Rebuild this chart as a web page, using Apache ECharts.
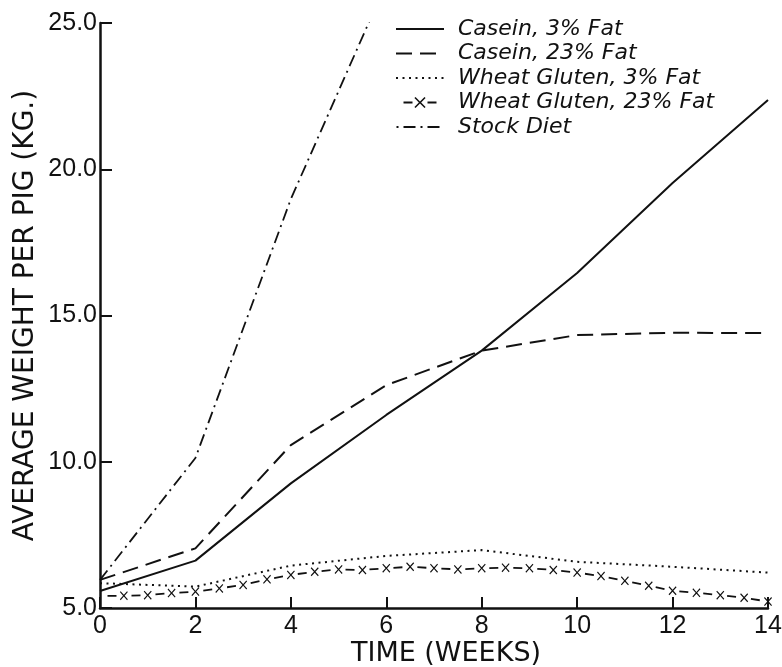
<!DOCTYPE html>
<html>
<head>
<meta charset="utf-8">
<script src="https://cdn.jsdelivr.net/npm/echarts@6/dist/echarts.min.js"></script>
<style>
html,body{margin:0;padding:0;background:#fff;}
#chart{width:782px;height:667px;}
</style>
</head>
<body>
<div id="chart"></div>
<script>
// ---- data ----
var weeks = [0, 2, 4, 6, 8, 10, 12, 14];
var casein3 = [5.58, 6.62, 9.26, 11.6, 13.8, 16.45, 19.53, 22.37];
var casein23 = [5.96, 7.04, 10.57, 12.62, 13.8, 14.33, 14.41, 14.4];
var wheat3 = [5.85, 5.73, 6.45, 6.78, 6.98, 6.58, 6.41, 6.21];
var stockWeeks = [0, 2, 4, 6];
var stock = [5.96, 10.13, 18.98, 26.37];
var halfWeeks = [0, 0.5, 1, 1.5, 2, 2.5, 3, 3.5, 4, 4.5, 5, 5.5, 6, 6.5, 7, 7.5, 8, 8.5, 9, 9.5, 10, 10.5, 11, 11.5, 12, 12.5, 13, 13.5, 14];
var wheat23 = [5.41, 5.42, 5.44, 5.51, 5.56, 5.67, 5.79, 5.98, 6.13, 6.24, 6.32, 6.30, 6.36, 6.41, 6.36, 6.32, 6.36, 6.38, 6.36, 6.30, 6.21, 6.09, 5.93, 5.76, 5.59, 5.52, 5.44, 5.35, 5.22];
var seriesNames = ['Casein, 3% Fat', 'Casein, 23% Fat', 'Wheat Gluten, 3% Fat', 'Wheat Gluten, 23% Fat', 'Stock Diet'];
var xTicks = {min: 0, max: 14, interval: 2};
var yTicks = {min: 5, max: 25, interval: 5};

function zip(xs, ys) { return xs.map(function (x, i) { return [x, ys[i]]; }); }

var crossPath = 'path://M0,1 L1,0 L5,4 L9,0 L10,1 L6,5 L10,9 L9,10 L5,6 L1,10 L0,9 L4,5 Z';
var w23data = zip(halfWeeks, wheat23).map(function (p, i) {
  return i === 0 ? {value: p, symbol: 'none'} : p;
});

var legendData = seriesNames.map(function (n, i) {
  return i === 3 ? {name: n} : {name: n, itemStyle: {opacity: 0}};
});

var chart = echarts.init(document.getElementById('chart'), null, {renderer: 'canvas'});
var axisFont = 'Liberation Sans, Arial, sans-serif';
var nameFont = 'DejaVu Sans, sans-serif';
chart.setOption({
  backgroundColor: '#ffffff',
  animation: false,
  grid: {left: 100, right: 14, top: 23, bottom: 59, containLabel: false, outerBoundsMode: 'none'},
  legend: {
    orient: 'vertical',
    left: 395,
    top: 18,
    padding: 0,
    itemWidth: 48,
    itemHeight: 14,
    itemGap: 2.5,
    data: legendData,
    textStyle: {
      fontFamily: nameFont,
      fontStyle: 'italic',
      fontSize: 22,
      lineHeight: 22,
      color: '#111',
      padding: [0, 0, 0, 9]
    }
  },
  xAxis: {
    type: 'value',
    min: xTicks.min, max: xTicks.max, interval: xTicks.interval,
    name: 'TIME (WEEKS)',
    nameLocation: 'middle',
    nameGap: 32,
    nameMoveOverlap: false,
    nameTextStyle: {fontFamily: nameFont, fontSize: 27, color: '#111', padding: [0, 0, 0, 24]},
    axisLine: {show: true, lineStyle: {color: '#111', width: 2.5}},
    axisTick: {show: true, inside: true, length: 11, lineStyle: {color: '#111', width: 2}},
    axisLabel: {fontFamily: axisFont, fontSize: 25, color: '#111', margin: 6},
    splitLine: {show: false}
  },
  yAxis: {
    type: 'value',
    min: yTicks.min, max: yTicks.max, interval: yTicks.interval,
    name: 'AVERAGE WEIGHT PER PIG (KG.)',
    nameLocation: 'middle',
    nameGap: 60,
    nameMoveOverlap: false,
    nameRotate: 90,
    nameTextStyle: {fontFamily: nameFont, fontSize: 28, color: '#111'},
    axisLine: {show: true, lineStyle: {color: '#111', width: 2.5}},
    axisTick: {show: true, inside: true, length: 12, lineStyle: {color: '#111', width: 2}},
    axisLabel: {fontFamily: axisFont, fontSize: 25, color: '#111', margin: 3,
      formatter: function (v) { return v.toFixed(1); }},
    splitLine: {show: false}
  },
  series: [
    {
      name: seriesNames[0], type: 'line', data: zip(weeks, casein3),
      symbol: 'none', smooth: false, clip: true,
      lineStyle: {color: '#111', width: 2, type: 'solid'},
      itemStyle: {color: '#111'}
    },
    {
      name: seriesNames[1], type: 'line', data: zip(weeks, casein23),
      symbol: 'none', clip: true,
      lineStyle: {color: '#111', width: 2, type: [16, 8]},
      itemStyle: {color: '#111'}
    },
    {
      name: seriesNames[2], type: 'line', data: zip(weeks, wheat3),
      symbol: 'none', clip: true,
      lineStyle: {color: '#111', width: 2, type: [2, 4.5], cap: 'butt'},
      itemStyle: {color: '#111'}
    },
    {
      name: seriesNames[3], type: 'line', data: w23data,
      symbol: crossPath, symbolSize: [8, 9], clip: true,
      lineStyle: {color: '#111', width: 1.8, type: [9, 15], dashOffset: 16.5},
      itemStyle: {color: '#111'}
    },
    {
      name: seriesNames[4], type: 'line', data: zip(stockWeeks, stock),
      symbol: 'none', clip: true,
      lineStyle: {color: '#111', width: 1.8, type: [12, 5, 2, 5]},
      itemStyle: {color: '#111'}
    }
  ]
});
</script>
</body>
</html>
